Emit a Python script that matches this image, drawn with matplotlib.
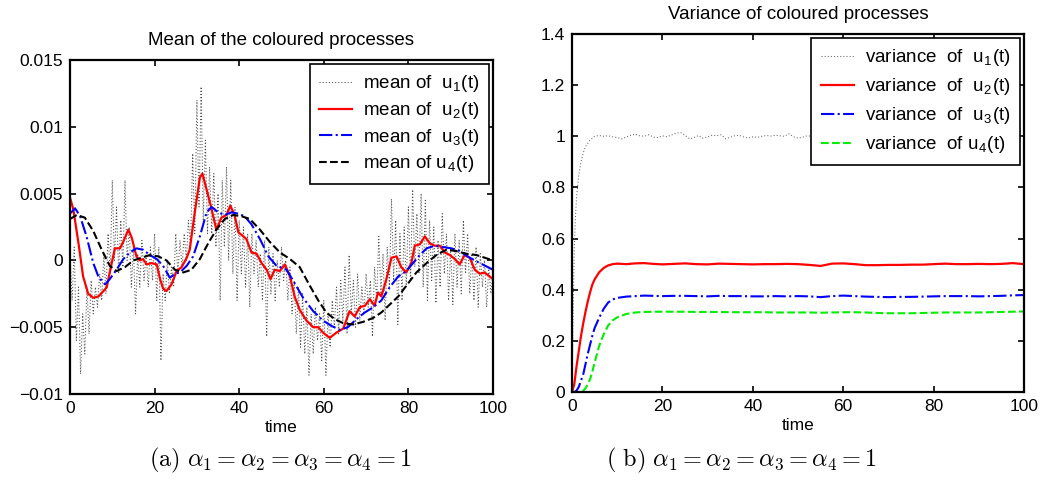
import numpy as np
import matplotlib
matplotlib.use("Agg")
import matplotlib.pyplot as plt

plt.rcParams['font.family'] = ['Liberation Sans', 'DejaVu Sans']
plt.rcParams['mathtext.fontset'] = 'cm'
plt.rcParams['mathtext.default'] = 'it'

MEAN_SCALE = 1e-3  # mean values below are given in units of 1e-3

# ---------------- Mean of coloured processes (values x 1e-3) ----------------
u1_mean = [0.5, -3, 1, -6, -2, -8.5, -4,
           -7, -2, -5.5, -1.5, -4, -2,
           -3.5, -1, -3, 0.5, -2.5, 2,
           -1, 6, 0, 4, -1, 3,
           -0.5, 6, 0, 2.5, -2, 1,
           -4, 0.5, -2, 1.5, -1.5, 0.5,
           -2, 1, -1.5, 2, -3, 1,
           -7.5, -1, -3, 0, -2.5, -0.5,
           -2, 2, -1, 1.5, -0.5, 2,
           0, 3, 1, 8, 2, 12,
           4, 13, 3, 9, 2, 7,
           2, 6.5, 1, 5, -3, 6,
           1, 7, 0, 6, -1, 4,
           -3, 3, -1, 2.5, -2, 2,
           -3.5, 2, -1, 1.5, -2, 0.5,
           -3, 1.5, -5.7, 1, -2.5, 0.5,
           -3, 0, -2, 1, -1.5, 0,
           -3, -0.5, -4, -1.5, -5.5, -2,
           -6.5, -2.5, -7, -3.5, -8.6, -4,
           -7, -3.5, -6, -4, -7.5, -3,
           -8.6, -4, -6.5, -3, -5, -2,
           -5.5, -1.5, -4.5, -0.5, -5.5, 0.4,
           -4, -1.5, -5, -1, -4.5, -2,
           -4, -1, -3.5, -1.5, -5.7, -0.5,
           -3, 1.8, -2.5, 0.5, -4.5, 1,
           -2, 4.6, -1.5, 3, -4.8, 2,
           -3, 2.5, -2, 4, -1.5, 5.3,
           -0.5, 3.5, -1, 5, -2, 4.5,
           -3, 3, -1.5, 2.5, -3.2, 1.5,
           -2, 3.5, -1, 2, -3, 1,
           -3.3, 2, -2, 1.5, -2.5, 3,
           -1, 2, -2.5, 0.5, -3, 1,
           -3.5, 0.5, -2, 0, -3.5, -0.5,
           -2.5, -1]

t_u2 = [0, 0.8, 2, 3.1, 4.3, 5.5, 6.7, 7.9, 8.7, 9.4, 10.6, 11.8, 12.6, 13.8, 14.6,
        15.7, 16.5, 17.3, 18.1, 19.3, 20.5, 21.3, 22, 22.8, 24, 25.2, 26.4, 27.6, 28.3,
        29.5, 30.7, 31.3, 32.3, 33.5, 34.6, 35.8, 37, 37.9, 38.9, 39.8, 40.6, 41.7, 42.9,
        44.1, 45.3, 46.5, 47.4, 48.4, 49.6, 50.8, 52, 53.1, 54.3, 55.9, 57.5, 58.7, 59.8,
        61.4, 63, 64.6, 66.1, 67.3, 68.5, 69.7, 70.9, 72, 72.8, 73.6, 74.8, 76, 77.2,
        78.3, 79.5, 80.7, 81.5, 82.7, 83.9, 85, 86.2, 87.4, 88.6, 89.8, 91, 92.1, 93.3,
        94.5, 95.7, 96.9, 98, 100]
u2_mean = [4.7, 3.8, 1.3, -1.2, -2.5, -2.8, -2.7, -2.3, -2.0, -0.9, 0.9, 0.9, 1.4, 2.3, 1.7,
           0.3, 0.0, 0.1, -0.3, -0.2, -0.3, -1.4, -2.1, -2.3, -1.8, -0.8, -0.5, 0.2, 0.8,
           3.6, 6.2, 6.5, 5.3, 3.8, 2.3, 3.2, 3.4, 4.1, 3.4, 2.1, 1.9, 1.6, 0.6,
           0.5, -0.2, -0.7, -1.4, -0.7, -0.8, -0.3, -1.2, -2.7, -3.7, -4.5, -5.0, -5.0, -5.4,
           -5.8, -5.4, -5.1, -3.8, -4.2, -3.5, -3.4, -2.9, -3.4, -2.4, -2.7, -1.4, 0.2, 0.3,
           -0.5, -0.9, -0.2, 1.1, 1.2, 1.8, 1.3, 1.1, 1.1, 0.6, 0.4, 0.1, -0.3, 0.4,
           0.2, -0.7, -1.0, -0.9, -1.4]

t_u3 = [0, 1.2, 2.4, 3.9, 5.5, 6.7, 8.3, 9.4, 11, 12.6, 14.2, 15.7, 17.3, 18.9, 20.5, 22,
        23.6, 24.8, 26, 27.6, 29.1, 30.7, 32.3, 33.5, 35, 36.6, 38.2, 39.8, 41.3, 42.9,
        44.9, 46.9, 48.8, 51.2, 53.1, 55.1, 57.5, 59.8, 61.8, 63.8, 65.7, 67.7, 69.7,
        71.7, 73.6, 75.6, 77.6, 79.5, 81.1, 82.7, 84.3, 86.2, 88.2, 90.2, 92.1, 94.5,
        96.9, 100]
u3_mean = [3.5, 3.9, 3.3, 1.8, -0.2, -1.2, -1.8, -1.4, -0.7, 0.1, 0.6, 0.9, 0.8, 0.4, 0.1, -0.4,
           -1.3, -1.0, -0.9, -0.4, 0.3, 1.8, 3.6, 4.0, 3.6, 3.4, 3.6, 3.5, 3.3, 2.7,
           1.6, 0.3, -0.4, -0.7, -1.7, -2.8, -3.8, -4.5, -4.9, -5.2, -5.0, -4.4, -3.9,
           -3.5, -3.0, -2.0, -1.2, -0.8, -0.2, 0.4, 0.9, 1.1, 1.0, 0.9, 0.7, 0.2,
           -0.2, -0.7]

t_u4 = [0, 1.6, 3.5, 5.5, 7.5, 9.4, 11, 13, 15, 16.9, 18.9, 20.9, 22.8, 24.8, 26.8, 28.7,
        30.7, 32.7, 34.6, 36.6, 38.6, 40.6, 42.5, 44.9, 47.2, 49.6, 52, 54.3, 56.7, 58.7,
        60.6, 62.6, 64.6, 66.9, 69.3, 71.7, 73.6, 75.6, 77.6, 79.5, 81.9, 84.3, 86.6,
        89, 91.3, 93.7, 96.1, 100]
u4_mean = [3.1, 3.4, 3.2, 2.2, 0.8, -0.4, -0.8, -0.5, 0.0, 0.2, 0.4, 0.3, 0.0, -0.7, -0.9, -0.7,
           0.1, 1.3, 2.3, 3.1, 3.4, 3.3, 3.1, 2.3, 1.4, 0.6, 0.1, -0.5, -1.9, -3.0,
           -3.9, -4.4, -4.7, -4.8, -4.6, -4.3, -3.9, -3.3, -2.7, -1.9, -0.9, -0.2, 0.4,
           0.8, 0.7, 0.5, 0.4, 0.0]

mean_labels = [r"mean of  u$_\mathregular{1}$(t)", r"mean of  u$_\mathregular{2}$(t)",
               r"mean of  u$_\mathregular{3}$(t)", r"mean of u$_\mathregular{4}$(t)"]
mean_yticks = [-0.01, -0.005, 0, 0.005, 0.01, 0.015]
mean_yticklabels = ["\u22120.01", "\u22120.005", "0", "0.005", "0.01", "0.015"]

# ---------------- Variance of coloured processes ----------------
t_v1 = [0, 0.25, 0.5, 0.75, 1, 1.5, 2, 2.5, 3, 3.5, 4, 4.5, 5] + list(range(6, 101))
u1_var = [0, 0.3, 0.55, 0.68, 0.76, 0.85, 0.9, 0.935, 0.96, 0.972, 0.985, 0.993, 1.0,
          1.003, 1.0, 1.002, 0.998, 0.995, 0.99, 0.997, 1.004, 1.008, 1.002,
          1.0, 1.006, 0.997, 0.995, 1.002, 0.998, 1.005, 1.012, 1.015, 1.004,
          0.99, 0.995, 1.003, 0.992, 0.998, 1.004, 1.002, 1.006, 0.99, 0.996,
          1.002, 1.004, 0.997, 0.993, 0.998, 0.996, 1.0, 1.003, 1.001, 1.004,
          1.002, 1.0, 1.01, 0.998, 0.993, 0.996, 1.002, 1.0, 0.997, 1.001,
          1.003, 0.998, 1.0, 1.004, 0.996, 1.0, 1.002, 0.997, 0.999, 1.003,
          0.998, 1.001, 1.0, 0.996, 1.002, 1.004, 0.999, 1.0, 0.997, 1.001,
          1.003, 0.999, 0.997, 1.0, 1.002, 1.004, 0.998, 1.0, 1.003, 0.999,
          0.996, 1.0, 1.002, 0.998, 1.001, 1.003, 0.999, 0.997, 1.0, 1.002,
          0.999, 1.001, 1.003, 1.0, 0.998]

t_v = [0, 0.5, 1, 1.5, 2, 2.5, 3, 3.5, 4, 4.5, 5, 6, 7, 8, 9, 10, 12, 14, 16, 18,
       20, 22.5, 25, 27.5, 30, 32.5, 35, 37.5, 40, 42.5, 45, 47.5, 50, 52.5, 55, 57.5,
       60, 62.5, 65, 67.5, 70, 72.5, 75, 77.5, 80, 82.5, 85, 87.5, 90, 92.5, 95, 97.5, 100]
u2_var = [0, 0.03, 0.1, 0.16, 0.22, 0.27, 0.315, 0.355, 0.39, 0.42, 0.44, 0.468, 0.485,
          0.495, 0.5, 0.502, 0.5, 0.503, 0.504, 0.501,
          0.499, 0.501, 0.503, 0.5, 0.499, 0.502, 0.501, 0.5, 0.499, 0.5, 0.5, 0.501,
          0.5, 0.497, 0.493, 0.502, 0.503, 0.5, 0.496, 0.496, 0.497, 0.497, 0.498,
          0.498, 0.5, 0.502, 0.5, 0.5, 0.501, 0.5, 0.501, 0.504, 0.5]
u3_var = [0, 0, 0.005, 0.02, 0.045, 0.07, 0.11, 0.15, 0.185, 0.22, 0.25, 0.29, 0.325,
          0.35, 0.362, 0.368, 0.373, 0.375, 0.377, 0.376,
          0.375, 0.376, 0.376, 0.375, 0.374, 0.376, 0.375, 0.375, 0.374, 0.374, 0.375,
          0.374, 0.375, 0.374, 0.371, 0.375, 0.377, 0.375, 0.373, 0.372, 0.371, 0.372,
          0.372, 0.373, 0.374, 0.375, 0.375, 0.375, 0.374, 0.375, 0.376, 0.378, 0.379]
u4_var = [0, 0, 0, 0, 0, 0.005, 0.015, 0.03, 0.05, 0.08, 0.115, 0.18, 0.225, 0.26, 0.28,
          0.292, 0.305, 0.311, 0.313, 0.314,
          0.314, 0.314, 0.314, 0.313, 0.313, 0.313, 0.312, 0.312, 0.312, 0.312, 0.311,
          0.311, 0.311, 0.311, 0.31, 0.311, 0.312, 0.312, 0.311, 0.309, 0.308, 0.308,
          0.308, 0.309, 0.31, 0.311, 0.311, 0.311, 0.311, 0.312, 0.313, 0.314, 0.315]

var_labels = [r"variance  of  u$_\mathregular{1}$(t)", r"variance  of  u$_\mathregular{2}$(t)",
              r"variance  of  u$_\mathregular{3}$(t)", r"variance  of u$_\mathregular{4}$(t)"]
var_yticks = [0, 0.2, 0.4, 0.6, 0.8, 1.0, 1.2, 1.4]
var_yticklabels = ["0", "0.2", "0.4", "0.6", "0.8", "1", "1.2", "1.4"]

xticks = [0, 20, 40, 60, 80, 100]

captions = [r"$\mathrm{(a)}\ \alpha_1 = \alpha_2 = \alpha_3 = \alpha_4 = 1$",
            r"$\mathrm{(\ b)}\ \alpha_1 = \alpha_2 = \alpha_3 = \alpha_4 = 1$"]

# ---------------- Figure ----------------
W, H = 1049, 482
fig = plt.figure(figsize=(W / 100, H / 100), dpi=100)
ax1 = fig.add_axes([70 / W, 1 - 394 / H, 423 / W, 334 / H])
ax2 = fig.add_axes([572 / W, 1 - 392 / H, 452 / W, 358 / H])

TICK_FS = 12.5
LEG_FS = 13.5


def style(ax):
    for sp in ax.spines.values():
        sp.set_linewidth(1.6)
    ax.tick_params(direction='in', length=4, width=1.2, top=True, right=True,
                   labelsize=TICK_FS, pad=5)
    ax.set_xlim(0, 100)
    ax.set_xticks(xticks)
    ax.set_xticklabels([str(v) for v in xticks])


def legend(ax, spacing):
    leg = ax.legend(loc='upper right', fontsize=LEG_FS, frameon=True, fancybox=False,
                    edgecolor='black', framealpha=1, borderaxespad=0.22,
                    handlelength=1.75, handletextpad=0.6, labelspacing=spacing,
                    borderpad=0.5)
    leg.get_frame().set_linewidth(1.2)
    return leg


t1 = np.linspace(0, 100, len(u1_mean))
s = MEAN_SCALE
ax1.plot(t1, np.array(u1_mean) * s, color='0.3', ls=(0, (1, 2)), lw=0.75, label=mean_labels[0])
ax1.plot(t_u2, np.array(u2_mean) * s, color='red', ls='-', lw=1.6, label=mean_labels[1])
ax1.plot(t_u3, np.array(u3_mean) * s, color='blue', ls='-.', lw=1.5, label=mean_labels[2])
ax1.plot(t_u4, np.array(u4_mean) * s, color='black', ls='--', lw=1.5, label=mean_labels[3])
style(ax1)
ax1.set_ylim(-0.01, 0.015)
ax1.set_yticks(mean_yticks)
ax1.set_yticklabels(mean_yticklabels)
ax1.set_title("Mean of the coloured processes", fontsize=13.5, pad=11)
ax1.set_xlabel("time", fontsize=TICK_FS, labelpad=3)
legend(ax1, 0.3)

ax2.plot(t_v1, u1_var, color='0.4', ls=(0, (1, 2)), lw=0.75, label=var_labels[0])
ax2.plot(t_v, u2_var, color='red', ls='-', lw=1.6, label=var_labels[1])
ax2.plot(t_v, u3_var, color='blue', ls='-.', lw=1.5, label=var_labels[2])
ax2.plot(t_v, u4_var, color='#00ee00', ls='--', lw=1.5, label=var_labels[3])
style(ax2)
ax2.set_ylim(0, 1.4)
ax2.set_yticks(var_yticks)
ax2.set_yticklabels(var_yticklabels)
ax2.set_title("Variance of coloured processes", fontsize=13.5, pad=11)
ax2.set_xlabel("time", fontsize=TICK_FS, labelpad=3)
legend(ax2, 0.42)

cap_kw = dict(fontsize=17.5, ha='center', va='center')
fig.text(280 / W, 1 - 460 / H, captions[0], **cap_kw)
fig.text(741 / W, 1 - 460 / H, captions[1], **cap_kw)

fig.savefig("out.png", dpi=100)
